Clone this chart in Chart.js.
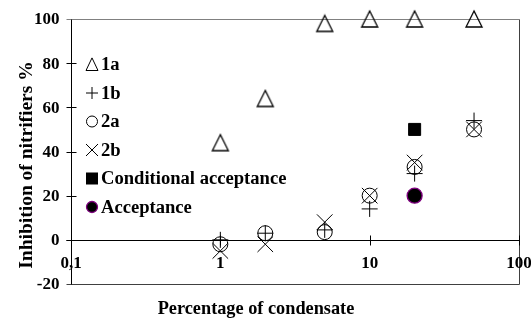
<!DOCTYPE html>
<html><head><meta charset="utf-8">
<script src="https://cdn.jsdelivr.net/npm/chart.js@4/dist/chart.umd.min.js"></script>
<style>html,body{margin:0;padding:0;background:#fff;overflow:hidden}#wrap{width:531px;height:318px;position:relative}</style>
</head><body><div id="wrap"><canvas id="c" width="531" height="318"></canvas></div>
<script>
// ---- data ----
const percentages = [1, 2, 5, 10, 20, 50];
const inhibition1a = [44, 64, 98, 100, 100, 100];
const inhibition1b = [0, 3, 4.5, 14, 30, 54];
const inhibition2a = [-2, 3, 3.5, 20, 33, 50];
const inhibition2b = [-5, -2, 8, 20, 35, 50];
const conditionalX = [20];
const conditionalY = [50];
const acceptanceX = [20];
const acceptanceY = [20];
const seriesNames = ['1a', '1b', '2a', '2b', 'Conditional acceptance', 'Acceptance'];
const yTickValues = [-20, 0, 20, 40, 60, 80, 100];
const xTickValues = [0.1, 1, 10, 100];
const xTickLabels = ['0,1', '1', '10', '100'];
const xTitle = 'Percentage of condensate';
const yTitle = 'Inhibition of nitrifiers %';

const FONT = '"Liberation Serif", "Times New Roman", serif';

function pts(xs, ys) { return xs.map((x, i) => ({x: x, y: ys[i]})); }

function triangleCanvas(w, h) {
  const c = document.createElement('canvas');
  c.width = w + 4; c.height = h + 4;
  const g = c.getContext('2d');
  g.strokeStyle = '#000'; g.lineWidth = 1.3;
  g.beginPath();
  g.moveTo(c.width / 2, 2);
  g.lineTo(2, h + 2);
  g.lineTo(w + 2, h + 2);
  g.closePath();
  g.stroke();
  return c;
}
const triImg = triangleCanvas(16, 16);

function drawSymbol(ctx, kind, x, y, s) {
  ctx.save();
  ctx.lineWidth = 1; ctx.strokeStyle = '#000'; ctx.fillStyle = '#000';
  ctx.beginPath();
  if (kind === 0) {
    ctx.moveTo(x, y - s * 0.55); ctx.lineTo(x - s * 0.5, y + s * 0.5); ctx.lineTo(x + s * 0.5, y + s * 0.5); ctx.closePath(); ctx.stroke();
  } else if (kind === 1) {
    ctx.moveTo(x - s / 2, y); ctx.lineTo(x + s / 2, y); ctx.moveTo(x, y - s / 2); ctx.lineTo(x, y + s / 2); ctx.stroke();
  } else if (kind === 2) {
    ctx.arc(x, y, s / 2 - 0.5, 0, Math.PI * 2); ctx.stroke();
  } else if (kind === 3) {
    ctx.moveTo(x - s / 2, y - s / 2); ctx.lineTo(x + s / 2, y + s / 2); ctx.moveTo(x + s / 2, y - s / 2); ctx.lineTo(x - s / 2, y + s / 2); ctx.stroke();
  } else if (kind === 4) {
    ctx.fillRect(x - s / 2, y - s / 2, s, s);
  } else {
    ctx.arc(x, y, s / 2 - 0.5, 0, Math.PI * 2); ctx.fill();
    ctx.strokeStyle = '#800080'; ctx.lineWidth = 1.3; ctx.stroke();
  }
  ctx.restore();
}

const decorations = {
  id: 'decorations',
  beforeDatasetsDraw(chart) {
    const ctx = chart.ctx;
    const xs = chart.scales.x, ys = chart.scales.y;
    const L = Math.round(xs.getPixelForValue(0.1)) + 0.5;
    const R = Math.round(xs.getPixelForValue(100)) + 0.5;
    const T = Math.round(ys.getPixelForValue(100)) + 0.5;
    const B = Math.round(ys.getPixelForValue(-20)) + 0.5;
    const Z = Math.round(ys.getPixelForValue(0)) + 0.5;
    ctx.save();
    ctx.lineWidth = 1;
    // top border
    ctx.strokeStyle = '#808080';
    ctx.beginPath(); ctx.moveTo(L - 5, T); ctx.lineTo(R, T); ctx.stroke();
    // bottom & right border
    ctx.strokeStyle = '#404040';
    ctx.beginPath(); ctx.moveTo(L - 5, B); ctx.lineTo(R, B); ctx.moveTo(R, T); ctx.lineTo(R, B); ctx.stroke();
    // left axis
    ctx.strokeStyle = '#000';
    ctx.beginPath(); ctx.moveTo(L, T); ctx.lineTo(L, B); ctx.stroke();
    // y ticks
    ctx.beginPath();
    yTickValues.forEach(v => {
      if (v === 100 || v === -20) return;
      const py = Math.round(ys.getPixelForValue(v)) + 0.5;
      ctx.moveTo(L - 5, py); ctx.lineTo(L + 5, py);
    });
    ctx.stroke();
    // x axis at 0
    ctx.beginPath(); ctx.moveTo(L - 5, Z); ctx.lineTo(R, Z); ctx.stroke();
    ctx.beginPath();
    xTickValues.forEach(v => {
      const px = Math.round(xs.getPixelForValue(v)) + 0.5;
      ctx.moveTo(px, Z - 5); ctx.lineTo(px, Z + 5);
    });
    ctx.stroke();
    // labels
    ctx.fillStyle = '#000';
    ctx.font = 'bold 17px ' + FONT;
    ctx.textAlign = 'right'; ctx.textBaseline = 'middle';
    yTickValues.forEach(v => {
      ctx.fillText(String(v), L - 12, ys.getPixelForValue(v) + 1);
    });
    ctx.textAlign = 'center';
    xTickValues.forEach((v, i) => {
      ctx.fillText(xTickLabels[i], xs.getPixelForValue(v), Z + 23);
    });
    // titles
    ctx.font = 'bold 18.3px ' + FONT;
    ctx.fillText(xTitle, 256, 309);
    ctx.save();
    ctx.translate(27, 165);
    ctx.rotate(-Math.PI / 2);
    ctx.font = 'bold 19.5px ' + FONT;
    ctx.fillText(yTitle, 0, 0);
    ctx.restore();
    // legend
    ctx.textAlign = 'left';
    ctx.font = 'bold 18.6px ' + FONT;
    seriesNames.forEach((name, i) => {
      const ly = 64.5 + i * 28.5;
      drawSymbol(ctx, i, 92, ly, 12);
      ctx.fillStyle = '#000';
      ctx.fillText(name, 101, ly + 1);
    });
    ctx.restore();
  }
};

new Chart(document.getElementById('c'), {
  type: 'scatter',
  data: {
    datasets: [
      {label: seriesNames[0], data: pts(percentages, inhibition1a), pointStyle: triImg, pointRadius: 9, clip: false},
      {label: seriesNames[1], data: pts(percentages, inhibition1b), pointStyle: 'cross', pointRadius: 8, borderColor: '#000', borderWidth: 1, clip: false},
      {label: seriesNames[2], data: pts(percentages, inhibition2a), pointStyle: 'circle', pointRadius: 7.5, borderColor: '#000', backgroundColor: 'rgba(0,0,0,0)', borderWidth: 1, clip: false},
      {label: seriesNames[3], data: pts(percentages, inhibition2b), pointStyle: 'crossRot', pointRadius: 11, borderColor: '#000', borderWidth: 1, clip: false},
      {label: seriesNames[4], data: pts(conditionalX, conditionalY), pointStyle: 'rect', pointRadius: 8.5, borderColor: '#000', backgroundColor: '#000', borderWidth: 1, clip: false},
      {label: seriesNames[5], data: pts(acceptanceX, acceptanceY), pointStyle: 'circle', pointRadius: 7.5, borderColor: '#800080', backgroundColor: '#000', borderWidth: 1.3, clip: false}
    ]
  },
  options: {
    responsive: false,
    animation: false,
    events: [],
    layout: {padding: {left: 71, right: 12, top: 19, bottom: 34}},
    plugins: {legend: {display: false}, tooltip: {enabled: false}},
    scales: {
      x: {type: 'logarithmic', min: 0.1, max: 100, display: false},
      y: {type: 'linear', min: -20, max: 100, display: false}
    }
  },
  plugins: [decorations]
});
</script>
</body></html>
